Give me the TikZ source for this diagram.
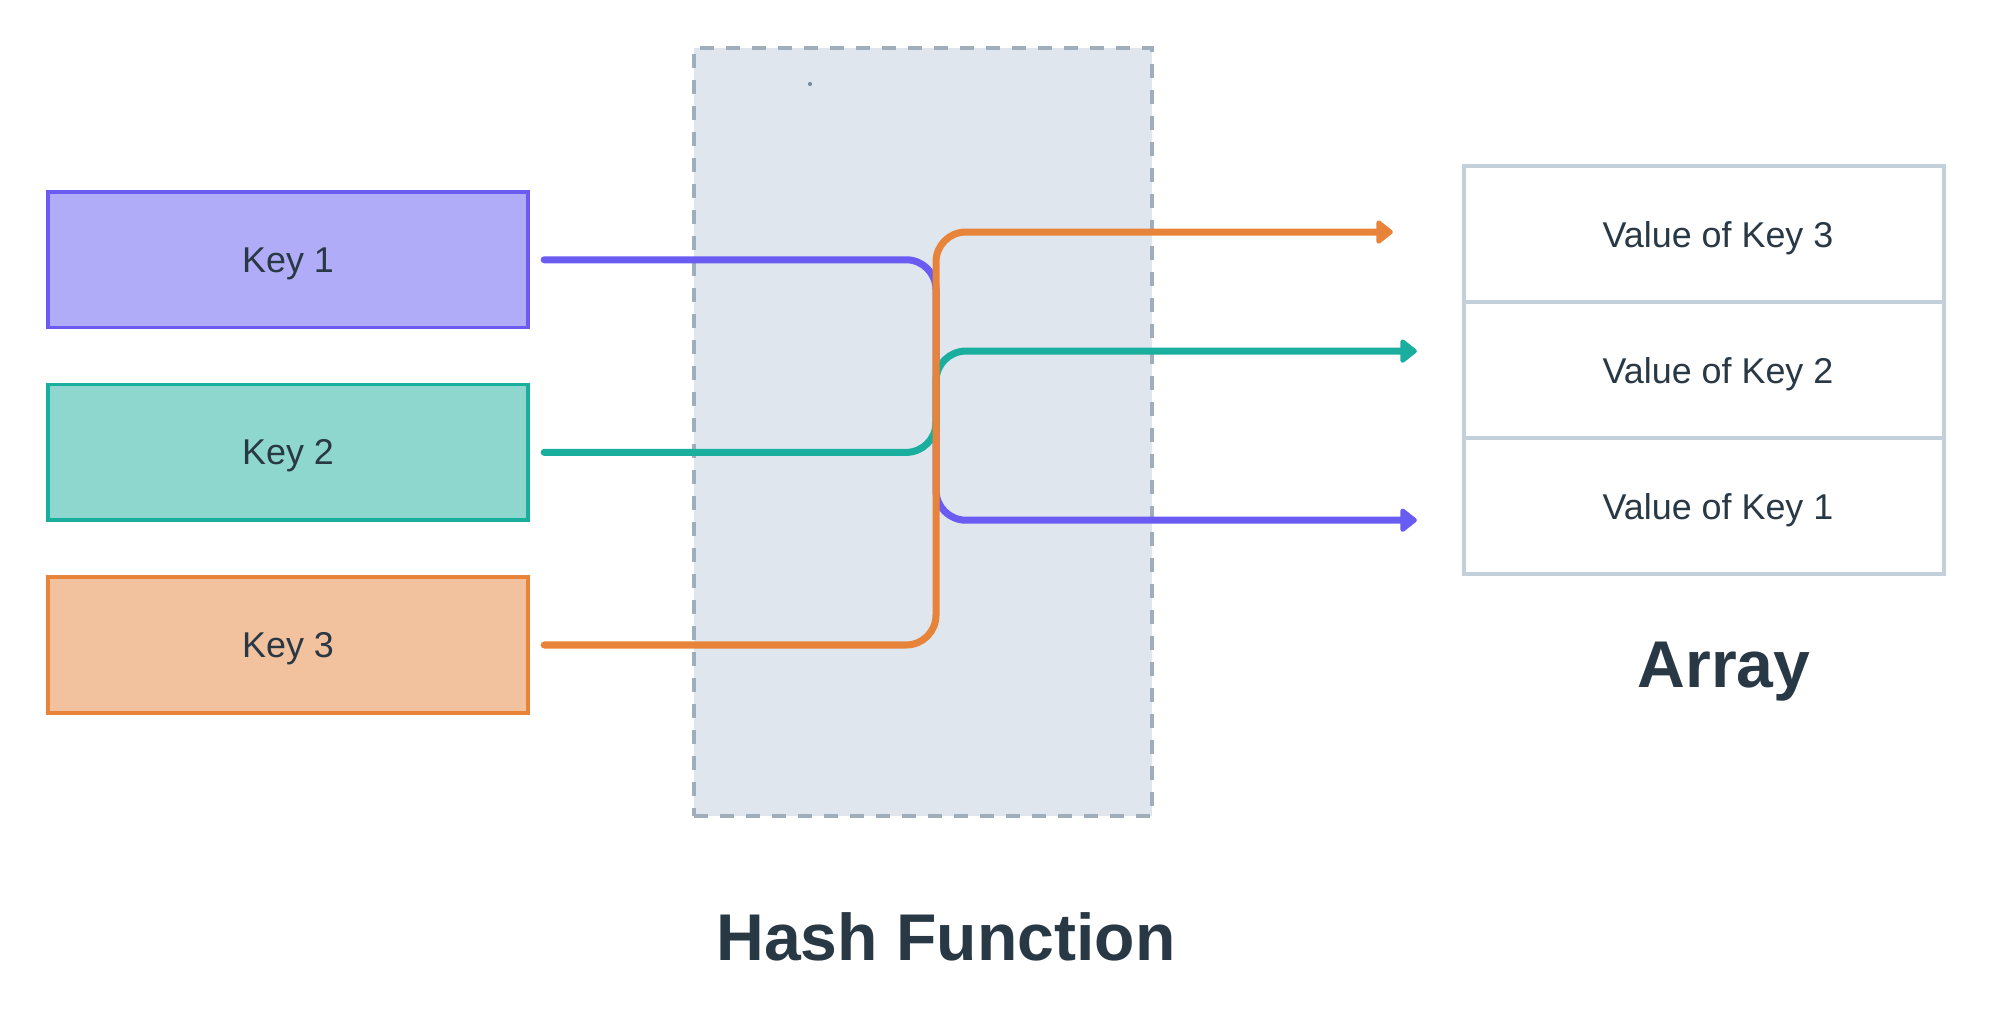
\documentclass[tikz,border=0pt]{standalone}
\usepackage{fontspec}
\setmainfont{Liberation Sans}
\usetikzlibrary{positioning,arrows.meta}
\definecolor{ink}{HTML}{293845}
\definecolor{purp}{HTML}{6A5BF2}
\definecolor{purpfill}{HTML}{B1ACF8}
\definecolor{teal}{HTML}{1AAE9F}
\definecolor{tealfill}{HTML}{8ED7CE}
\definecolor{orng}{HTML}{E8833A}
\definecolor{orngfill}{HTML}{F2C19E}
\definecolor{hashfill}{HTML}{DFE6EE}
\definecolor{hashline}{HTML}{A0AEBB}
\definecolor{cellline}{HTML}{C3CFD9}
\begin{document}
\begin{tikzpicture}[x=0.01cm,y=-0.01cm,
    keybox/.style={draw,line width=1pt,minimum width=4.8cm,minimum height=1.355cm,
      outer sep=0pt,text=ink,text depth=0pt,font=\fontsize{10.2}{12}\selectfont},
    cell/.style={draw=cellline,line width=1.14pt,minimum width=4.8cm,minimum height=1.36cm,
      outer sep=0pt,text=ink,text depth=0pt,font=\fontsize{10.2}{12}\selectfont},
    link/.style={line width=2pt,rounded corners=8.5pt,line cap=round,
      -{Triangle[length=0.18cm,width=0.27cm,round]}},
    title/.style={anchor=base,text=ink,font=\fontsize{18.8}{23}\selectfont\bfseries}]
  \useasboundingbox (0,0) rectangle (1992,1032);

  % Hash function area
  \node[fill=hashfill,draw=hashline,line width=1.14pt,dash pattern=on 3.98pt off 3.41pt,
    minimum width=4.57cm,minimum height=7.68cm,outer sep=0pt] (h) at (923,432) {};
  \fill[hashline!140] (810,84) circle (0.6pt);
  \coordinate (mix) at (936,432);

  % Keys
  \node[keybox,draw=purp,fill=purpfill] (k1) at (288,259.75) {Key 1};
  \node[keybox,draw=teal,fill=tealfill,below=0.57cm of k1] (k2) {Key 2};
  \node[keybox,draw=orng,fill=orngfill,below=0.57cm of k2] (k3) {Key 3};

  % Array cells
  \node[cell] (v3) at (1704,234) {\hspace{0.28cm}Value of Key 3};
  \node[cell,below=0cm of v3] (v2) {\hspace{0.28cm}Value of Key 2};
  \node[cell,below=0cm of v2] (v1) {\hspace{0.28cm}Value of Key 1};

  % Arrow ends
  \coordinate (t3) at ([xshift=-0.71cm,yshift=0.02cm]v3.west);
  \coordinate (t2) at ([xshift=-0.47cm,yshift=0.19cm]v2.west);
  \coordinate (t1) at ([xshift=-0.47cm,yshift=-0.14cm]v1.west);

  % Draw links, orange on top
  \draw[link,purp] ([xshift=0.16cm]k1.east) -| (mix |- t1) -- (t1);
  \draw[link,teal] ([xshift=0.16cm]k2.east) -| (mix |- t2) -- (t2);
  \draw[link,orng] ([xshift=0.16cm]k3.east) -| (mix |- t3) -- (t3);

  % Titles
  \node[title] (hf) at (946,960) {Hash Function};
  \node[title] (arr) at (1724,687) {Array};
\end{tikzpicture}
\end{document}
